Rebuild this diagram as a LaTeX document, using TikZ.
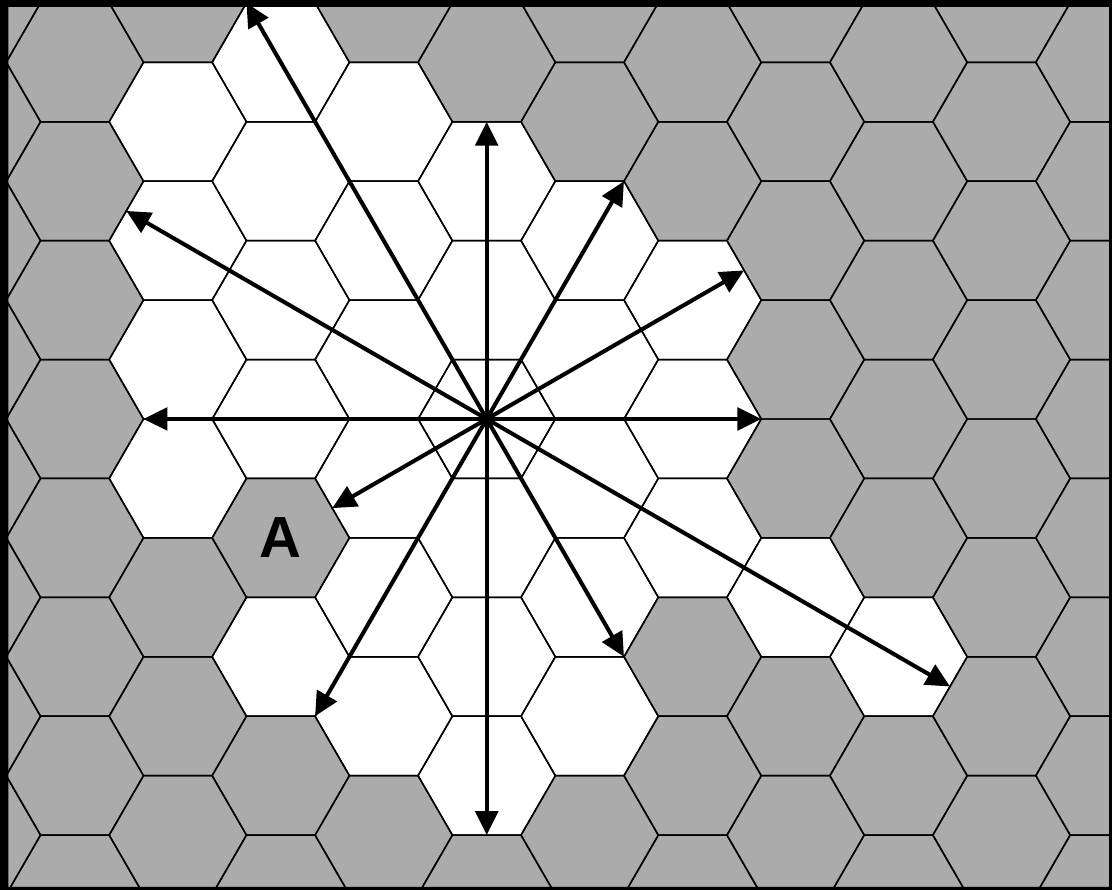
\documentclass[tikz,border=0pt]{standalone}
\usepackage{fontspec}
\setsansfont{Liberation Sans}
\usetikzlibrary{arrows.meta}

\begin{document}
\begin{tikzpicture}[
    			>={Triangle[length=6.8pt,width=6.4pt]},
    			hexline/.style={black, line width=0.42pt},
    			ray/.style={->, black, line width=1.15pt},
    			cellLabel/.style={font=\sffamily\bfseries\fontsize{16.5}{18}\selectfont}
    			]
    			
    			% Parameters
    			\def\s{0.6864}
    			\pgfmathsetmacro{\ap}{\s*sqrt(3)/2}
    			\pgfmathsetmacro{\dx}{1.5*\s}
    			
    			% Colors
    			\definecolor{cellGray}{HTML}{ABABAB}
    			
    			% Picture corners
    			\coordinate (SW) at (-4.867,-4.71);
    			\coordinate (NE) at (6.253,4.19);
    			\useasboundingbox (SW) rectangle (NE);
    			
    			% Coordinates
    			\coordinate (O)   at (0,0);
    			\coordinate (E)   at (0:4*\s);
    			\coordinate (ENE) at (30:5*\ap);
    			\coordinate (NNE) at (60:4*\s);
    			\coordinate (N)   at (90:5*\ap);
    			\coordinate (NNW) at (120:7*\s);
    			\coordinate (WNW) at (150:7*\ap);
    			\coordinate (W)   at (180:5*\s);
    			\coordinate (WSW) at (210:3*\ap);
    			\coordinate (SSW) at (240:5*\s);
    			\coordinate (S)   at (270:7*\ap);
    			\coordinate (SSE) at (300:4*\s);
    			\coordinate (ESE) at (330:9*\ap);
    			
    			% Hex grid
    			\begin{scope}
    				\clip (SW) rectangle (NE);
    				\fill[cellGray] (SW) rectangle (NE);
    				
    				% Free (white) cells, column/row
    				\foreach \k/\j in {0/4,0/2,0/0,0/-2,0/-4,0/-6,
    					1/3,1/1,1/-1,1/-3,1/-5,
    					2/2,2/0,2/-2,
    					3/-3,4/-4,
    					-1/5,-1/3,-1/1,-1/-1,-1/-3,-1/-5,
    					-2/6,-2/4,-2/2,-2/0,-2/-4,
    					-3/5,-3/3,-3/1,-3/-1}
    				\fill[white, shift={(\k*\dx,\j*\ap)}]
    				(0:\s) -- (60:\s) -- (120:\s) -- (180:\s) -- (240:\s) -- (300:\s) -- cycle;
    				
    				% Cell outlines
    				\foreach \k in {-5,...,6}
    				\foreach \j in {-9,...,9}{
    					\pgfmathtruncatemacro{\odd}{mod(abs(\k+\j),2)}
    					\ifnum\odd=0
    					\draw[hexline, shift={(\k*\dx,\j*\ap)}]
    					(0:\s) -- (60:\s) -- (120:\s) -- (180:\s) -- (240:\s) -- (300:\s) -- cycle;
    					\fi
    				}
    			\end{scope}
    			
    			% Blocked cell
    			\node[cellLabel] (cellA) at (-2*\dx,-2*\ap) {A};
    			
    			% Frame
    			\fill[black, even odd rule] (SW) rectangle (NE) (-4.784,-4.68) rectangle (6.223,4.12);
    			
    			% Rays
    			\foreach \t in {E,ENE,NNE,N,NNW,WNW,W,WSW,SSW,S,SSE,ESE}
    			\draw[ray] (O) -- (\t);
    		\end{tikzpicture}
\end{document}
